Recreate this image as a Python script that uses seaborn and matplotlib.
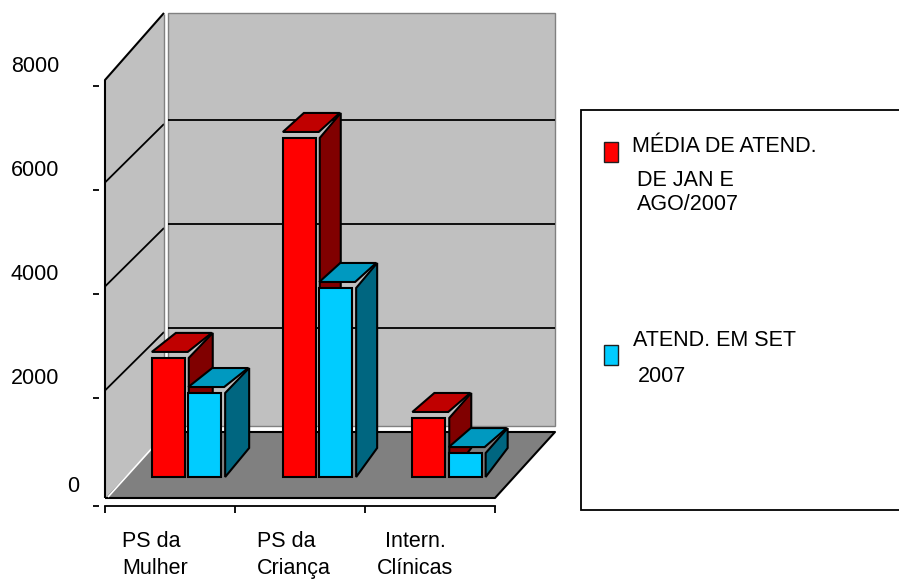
import matplotlib
matplotlib.use("Agg")
import matplotlib.pyplot as plt
import pandas as pd
import seaborn as sns
from matplotlib.patches import Polygon, Rectangle
from matplotlib.transforms import Affine2D

# Data
categories = ["PS da\nMulher", "PS da\nCriança", "Intern.\nClínicas"]
series_names = ["MÉDIA", "SET"]
media_jan_ago = [2290, 6520, 1135]
atend_set = [1615, 3635, 460]
y_ticks = [0, 2000, 4000, 6000, 8000]

# Colours: front, top and side face of each series
FACES = {
    "MÉDIA": ("#ff0000", "#c00000", "#800000"),
    "SET": ("#00ccff", "#0099c0", "#006680"),
}
WALL = "#c0c0c0"
FLOOR = "#808080"
W, H = 899, 579

sns.set_theme(style="white")
plt.rcParams["font.family"] = ["Liberation Sans", "DejaVu Sans"]
FS = 15.5
EDGE = 1.5

fig = plt.figure(figsize=(W / 100, H / 100), dpi=100, facecolor="white")
ax = fig.add_axes([105 / W, (H - 506) / H, 390 / W, 420 / H])
ax.patch.set_visible(False)

df = pd.DataFrame({
    "categoria": categories * 2,
    "serie": [series_names[0]] * 3 + [series_names[1]] * 3,
    "valor": media_jan_ago + atend_set,
})
sns.barplot(
    data=df, x="categoria", y="valor", hue="serie", order=categories,
    palette={k: v[0] for k, v in FACES.items()}, saturation=1,
    width=0.56, gap=0.096, edgecolor="black", linewidth=EDGE,
    legend=False, ax=ax,
)
# The horizontal axis hangs a little below the zero level of the value scale
ax.set_xlim(-0.5, 2.5)
ax.set_ylim(-77, 8000)
ax.set_xlabel("")
ax.set_ylabel("")

# Pixel helpers (origin at the top-left of the figure)
page = Affine2D().scale(1, -1).translate(0, H)


def to_page(x, v, dx=0.0, dy=0.0):
    """Data point to page pixels, pushed back by (dx, dy) pixels of depth."""
    px, py = ax.transData.transform((x, v))
    return px + dx, (H - py) - dy


def poly(points, face, edge="none", lw=0.0, z=1):
    ax.add_patch(Polygon(points, closed=True, facecolor=face, edgecolor=edge,
                         linewidth=lw, transform=page, clip_on=False, zorder=z,
                         joinstyle="miter"))


def line(points, color="black", lw=1.3, z=1.5):
    xs, ys = zip(*points)
    ax.plot(xs, ys, color=color, lw=lw, transform=page, clip_on=False,
            zorder=z, solid_capstyle="butt")


# Room: side wall, back wall and floor sit one depth step behind the axis
X0, X1 = -0.5, 2.5
TOP = 8000
SIDE_DX = 59      # rear edge of the side wall
BACK_DX = 63      # left edge of the back wall
BACK_DX_R = 60    # right edge of the back wall and floor
FRONT_DY = 7.5    # side wall, front edge
FLOOR_FRONT_DY = 4
REAR_DY = 70
TOP_FRONT_DY = 6
TOP_REAR_DY = 73

poly([to_page(X0, 0, 0, FLOOR_FRONT_DY), to_page(X0, TOP, 0, TOP_FRONT_DY),
      to_page(X0, TOP, SIDE_DX, TOP_REAR_DY - 1), to_page(X0, 0, SIDE_DX, REAR_DY - 3)],
     WALL, z=1)
poly([to_page(X0, 0, BACK_DX, REAR_DY + 6), to_page(X0, TOP, BACK_DX, TOP_REAR_DY),
      to_page(X1, TOP, BACK_DX_R, TOP_REAR_DY), to_page(X1, 0, BACK_DX_R, REAR_DY + 6)],
     WALL, edge=FLOOR, lw=1.0, z=1)
poly([to_page(X0, 0, 0, FLOOR_FRONT_DY), to_page(X0, 0, BACK_DX - 1, REAR_DY),
      to_page(X1, 0, BACK_DX_R, REAR_DY), to_page(X1, 0, 0, FLOOR_FRONT_DY)],
     FLOOR, z=1.2)

# Grid: a diagonal on the side wall continuing as a rule on the back wall
for v in y_ticks[1:-1]:
    line([to_page(X0, v, 0, FRONT_DY), to_page(X0, v, SIDE_DX, REAR_DY - 4)])
    line([to_page(X0, v, BACK_DX, REAR_DY), to_page(X1, v, BACK_DX_R, REAR_DY)])

# Room outline
line([to_page(X0, 0, 0, FLOOR_FRONT_DY), to_page(X0, TOP, 0, TOP_FRONT_DY),
      to_page(X0, TOP, SIDE_DX, TOP_REAR_DY)], lw=1.5)
line([to_page(X0, 0, 0, FLOOR_FRONT_DY), to_page(X1, 0, 0, FLOOR_FRONT_DY),
      to_page(X1, 0, BACK_DX_R, REAR_DY), to_page(X0, 0, BACK_DX, REAR_DY)], lw=1.5, z=1.3)
line([to_page(X0, 0, 3, FLOOR_FRONT_DY + 1), to_page(X0, 0, SIDE_DX, REAR_DY - 3)],
     color="white", lw=1.2, z=1.3)
line([to_page(X0, TOP, SIDE_DX, TOP_REAR_DY - 1), to_page(X0, 0, SIDE_DX, REAR_DY - 3)],
     color=FLOOR, lw=1.0)

# Bars stand on the floor: extrude each front face with a top and a side face
BAR_DY = 25
bar_dx = [16.5, 17.5, 17]
depths = [24, 21, 22]
for s, (name, container) in enumerate(zip(series_names, ax.containers)):
    front, top, side = FACES[name]
    for c, rect in enumerate(container.patches):
        z = 3 + 2 * s + 0.01 * c
        sx, sy = bar_dx[c], BAR_DY
        rect.set_transform(ax.transData + Affine2D().translate(sx, sy))
        rect.set_zorder(z + 0.2)
        rect.set_clip_on(False)
        x_l = rect.get_x()
        x_r = x_l + rect.get_width()
        val = rect.get_height()
        d = depths[c]
        poly([to_page(x_r, val, sx + 4, sy), to_page(x_r, val, sx + 4 + d, sy + 25),
              to_page(x_r, 0, sx + 4 + d, sy + 29), to_page(x_r, 0, sx + 4, sy)],
             side, edge="black", lw=EDGE, z=z)
        poly([to_page(x_l, val, sx, sy + 6), to_page(x_l, val, sx + d, sy + 25),
              to_page(x_r, val, sx + d + 3, sy + 25), to_page(x_r, val, sx + 3, sy + 6)],
             top, edge="black", lw=EDGE, z=z + 0.1)

# Axes furniture
for name, spine in ax.spines.items():
    spine.set_visible(name == "bottom")
ax.spines["bottom"].set_color("black")
ax.spines["bottom"].set_linewidth(1.3)
ax.spines["left"].set_position(("outward", 6 * 0.72))

ax.set_yticks(y_ticks)
ax.set_yticklabels([str(v) for v in y_ticks])
ax.tick_params(axis="y", which="major", left=True, length=6 * 0.72, width=1.3, color="black",
               pad=34 * 0.72, labelsize=FS, labelcolor="black")
ax.set_xticks([-0.5, 0.5, 1.5, 2.5])
ax.set_xticklabels([])
ax.set_xticks([0, 1, 2], minor=True)
ax.set_xticklabels(categories, minor=True, linespacing=1.38)
ax.tick_params(axis="x", which="major", bottom=True, length=7 * 0.72, width=1.3, color="black")
ax.tick_params(axis="x", which="minor", bottom=False, length=0, pad=25 * 0.72,
               labelsize=FS, labelcolor="black")

# Value labels float above their ticks; the zero tick and label sit apart from the rest
for value, tick in zip(y_ticks, ax.yaxis.get_major_ticks()):
    label = tick.label1
    if value == 0:
        tick.tick1line.set_transform(tick.tick1line.get_transform() + Affine2D().translate(0, -4))
        label.set_transform(label.get_transform() + Affine2D().translate(20, 18))
    else:
        label.set_transform(label.get_transform() + Affine2D().translate(0, 22))

# Category labels: the first two are flush left, the last one centred
label_align = [("left", -48), ("left", -43), ("center", -14.5)]
for (ha, shift), label in zip(label_align, ax.get_xticklabels(minor=True)):
    label.set_ha(ha)
    label.set_transform(label.get_transform() + Affine2D().translate(shift, 0))

# Legend box and entries
fig.add_artist(Rectangle((581, 110), 320, 400, transform=page, facecolor="white",
                         edgecolor="black", linewidth=1.3, clip_on=False))
for (x, y), name in zip([(603.5, 142), (604, 345)], series_names):
    fig.add_artist(Rectangle((x, y), 14, 20, transform=page, facecolor=FACES[name][0],
                             edgecolor="#202020", linewidth=1.0))
legend_lines = [
    (632, 146, "MÉDIA DE ATEND."),
    (637, 180.5, "DE JAN E"),
    (637, 205, "AGO/2007"),
    (633, 340.5, "ATEND. EM SET"),
    (638, 377, "2007"),
]
for x, y, text in legend_lines:
    fig.text(x, y, text, transform=page, fontsize=FS, color="black", ha="left", va="center")

fig.savefig("out.png", dpi=100, facecolor="white")
